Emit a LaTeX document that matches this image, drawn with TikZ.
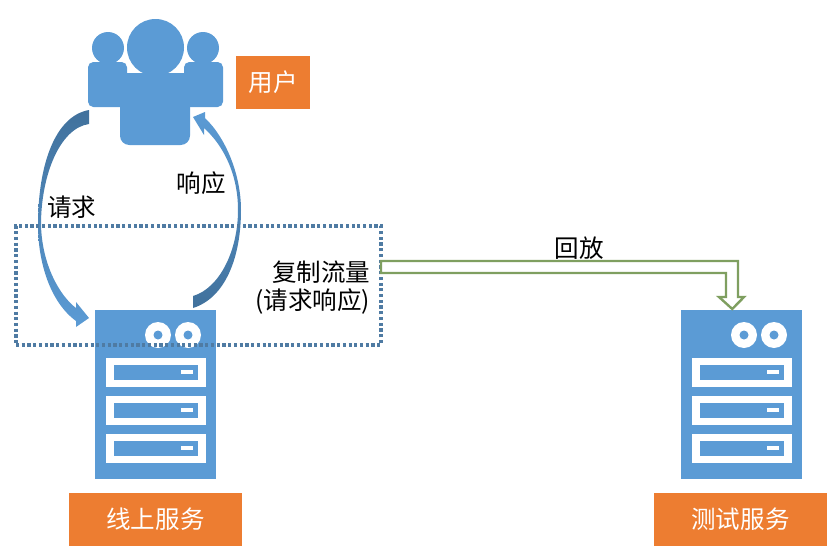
\documentclass[tikz,border=0pt]{standalone}
\usepackage{fontspec}
\setmainfont{Noto Sans CJK SC}
\usetikzlibrary{calc}

\definecolor{iconblue}{HTML}{5B9BD5}
\definecolor{darkblue}{HTML}{41719C}
\definecolor{dotblue}{HTML}{4F7BA3}
\definecolor{tagorange}{HTML}{ED7D31}
\definecolor{replaygreen}{HTML}{7F9F60}

\begin{document}
\begin{tikzpicture}[x=0.75pt, y=-0.75pt]
    % --- Style Definitions ---
    \tikzset{
        icon part/.style={
            fill=iconblue,
            draw=none
        },
        tag style/.style={
            fill=tagorange,
            text=white,
            font=\fontsize{18.4}{22}\selectfont,
            inner sep=0pt,
            minimum height=53*0.75pt
        },
        label text/.style={
            font=\fontsize{18.4}{22}\selectfont,
            color=black,
            inner sep=0pt
        },
        copy box/.style={
            draw=dotblue,
            line width=2.4pt,
            dash pattern=on 2.4pt off 1.9pt,
            inner sep=0pt,
            outer sep=0pt,
            minimum width=365*0.75pt,
            minimum height=119*0.75pt
        },
        replay arrow/.style={
            draw=replaygreen,
            line width=1.8pt,
            fill=white,
            line join=miter
        },
        server/.pic={
            \node[icon part, inner sep=0pt, minimum width=121*0.75pt, minimum height=169*0.75pt,
                anchor=north west] (-body) at (0,0) {};
            % eyes
            \foreach \cx in {63,93} {
                \fill[white] (\cx,25) circle (13*0.75pt);
                \fill[iconblue] (\cx,25) circle (4.5*0.75pt);
            }
            % three drive slots
            \foreach \sy in {48,86,124} {
                \fill[white] (11,\sy) rectangle (111,\sy+29);
                \fill[iconblue] (19,\sy+7) rectangle (103,\sy+22);
                \fill[white] (86,\sy+12) rectangle (98,\sy+16);
            }
        }
    }

    % --- 1. Fix the Page ---
    \useasboundingbox (0,0) rectangle (840,557);

    % --- 2. User Icon ---
    \fill[icon part] (108,48) circle (16*0.75pt);
    \fill[icon part] (203,48) circle (16*0.75pt);
    \fill[icon part, rounded corners=4pt] (88,62) rectangle (127,107);
    \fill[icon part, rounded corners=4pt] (184,62) rectangle (223,107);
    \fill[white] (155.5,47.5) circle (30*0.75pt);
    \fill[icon part] (155.5,47.5) circle (28.5*0.75pt);
    \fill[icon part] (100,73) rectangle (210,107);
    \fill[icon part, rounded corners=7pt] (120,73) rectangle (190,145);
    \node[tag style, minimum width=74*0.75pt] (usertag) at (273,82.5) {用户};

    % --- 3. Servers ---
    \pic (online) at (95,310) {server};
    \pic (testing) at (681,310) {server};
    \node[tag style, minimum width=173*0.75pt] (onlinetag) at (155.5,519.5) {线上服务};
    \node[tag style, minimum width=173*0.75pt] (testingtag) at (740.5,519.5) {测试服务};

    % --- 4. Curved Arrows ---
    % Left: request
    \shade[top color=darkblue, bottom color=iconblue]
        (89,110) .. controls (55,116) and (38,165) .. (38,225)
        .. controls (38,262) and (50,302) .. (76,321)
        -- (76,327) -- (89,318) -- (76,302) -- (76,308)
        .. controls (60,296) and (42,265) .. (41,225)
        .. controls (41,175) and (60,128) .. (89,124) -- cycle;
    % Right: response
    \shade[bottom color=darkblue, top color=iconblue]
        (193,308) .. controls (225,298) and (241,258) .. (241,210)
        .. controls (241,175) and (226,138) .. (205,118)
        -- (205,112) -- (193,117) -- (204,135) -- (204,128)
        .. controls (224,146) and (238,175) .. (238,210)
        .. controls (238,250) and (220,288) .. (193,296) -- cycle;

    % --- 5. Dotted Copy Region ---
    \node[copy box] (copyregion) at (198.5,285.5) {};

    % --- 6. Replay Arrow ---
    \coordinate (replayend) at ($(testing-body.north)+(-9.5,-1)$);
    \draw[replay arrow] (copyregion.east |- 0,261) -- (738,261) -- (738,297) -- (744,297)
        -- (replayend) -- (719,297) -- (726,297) -- (726,273) -- (copyregion.east |- 0,273) -- cycle;

    % --- 7. Labels ---
    \node[label text] (requestlbl) at (72,207) {请求};
    \node[label text] (responselbl) at (201,183) {响应};
    \node[label text, anchor=east] (copylbl) at (370.5,272) {复制流量};
    \node[label text, anchor=east] (copysublbl) at (370.5,301) {(请求响应)};
    \node[label text] (replaylbl) at (579,248) {回放};
\end{tikzpicture}
\end{document}
